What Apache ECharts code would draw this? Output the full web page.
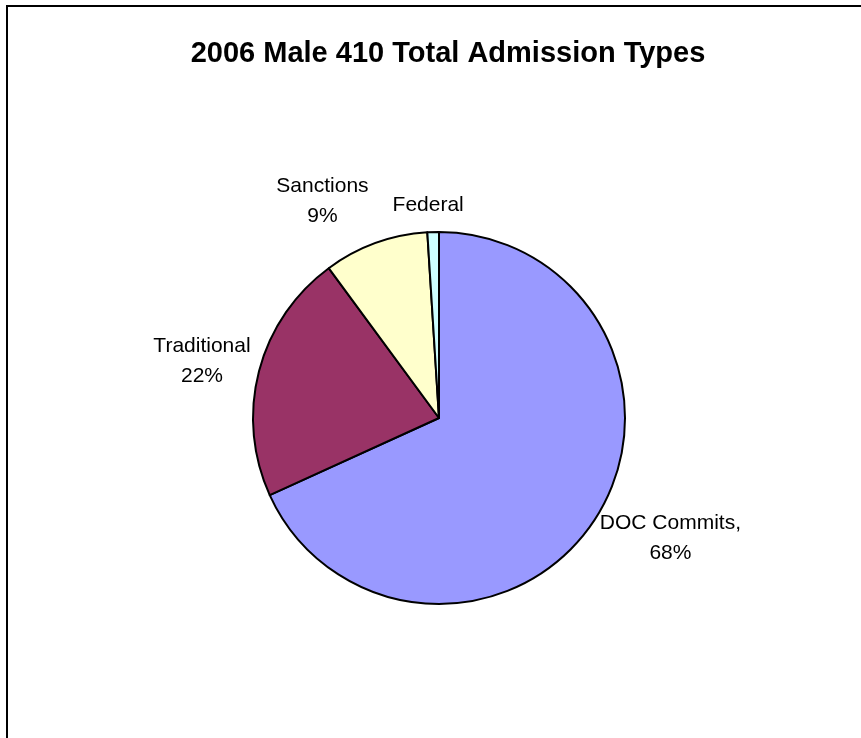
<!DOCTYPE html>
<html>
<head>
<meta charset="utf-8">
<style>
  html, body { margin: 0; padding: 0; background: #ffffff; }
  #chart { width: 861px; height: 738px; }
</style>
<script src="https://cdn.jsdelivr.net/npm/echarts@6/dist/echarts.min.js"></script>
</head>
<body>
<div id="chart"></div>
<script>
// ---- data ----
const categories = ["DOC Commits", "Traditional", "Sanctions", "Federal"];
const values = [68.2, 21.7, 9.1, 1.0];
const labelFormats = ["{b},\n{d}%", "{b}\n{d}%", "{b}\n{d}%", "{b}"];
const titleText = "2006 Male 410 Total Admission Types";

// ---- styles ----
const colors = ["#9999FF", "#993366", "#FFFFCC", "#CCFFFF"];
// label centre offset from the slice's mid-angle edge point (px)
const labelOffsets = [[75, 20], [-57, -10], [-53, -42], [-5, -27]];

const chart = echarts.init(document.getElementById("chart"), null, { renderer: "canvas" });

const data = categories.map((name, i) => ({
  name: name,
  value: values[i],
  itemStyle: { color: colors[i] },
  label: { formatter: labelFormats[i] }
}));

chart.setOption({
  backgroundColor: "#ffffff",
  animation: false,
  title: {
    text: titleText,
    left: 443,
    top: 34,
    textAlign: "center",
    textStyle: {
      fontFamily: "Liberation Sans, Arial, sans-serif",
      fontWeight: "bold",
      fontSize: 29,
      color: "#000000"
    }
  },
  graphic: [{
    type: "rect",
    shape: { x: 7, y: 6, width: 900, height: 900 },
    style: { fill: "none", stroke: "#000000", lineWidth: 2 },
    silent: true
  }],
  series: [{
    type: "pie",
    center: [439, 418],
    radius: [0, 186],
    startAngle: 90,
    clockwise: true,
    percentPrecision: 0,
    avoidLabelOverlap: false,
    itemStyle: { borderColor: "#000000", borderWidth: 2 },
    emphasis: { disabled: true },
    label: {
      show: true,
      position: "outside",
      fontFamily: "Liberation Sans, Arial, sans-serif",
      fontSize: 21,
      lineHeight: 30,
      color: "#000000"
    },
    labelLine: { show: true, length: 0, length2: 0, lineStyle: { opacity: 0, width: 0 } },
    labelLayout: function (params) {
      const i = params.dataIndex;
      let px, py;
      if (params.labelLinePoints && params.labelLinePoints.length) {
        px = params.labelLinePoints[0][0];
        py = params.labelLinePoints[0][1];
      } else {
        const r = params.labelRect;
        px = r.x + r.width / 2;
        py = r.y + r.height / 2;
      }
      return {
        x: px + labelOffsets[i][0],
        y: py + labelOffsets[i][1],
        align: "center",
        verticalAlign: "middle"
      };
    },
    data: data
  }]
});
</script>
</body>
</html>
